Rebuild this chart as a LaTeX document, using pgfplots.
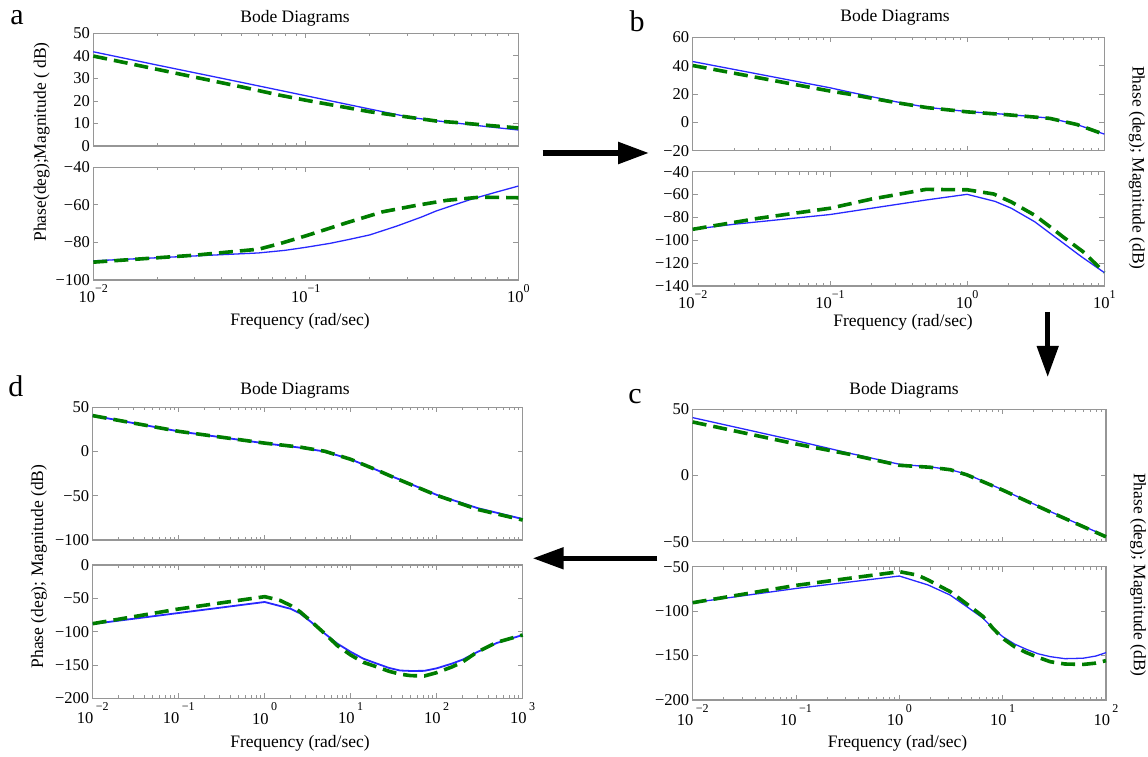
\documentclass[border=0pt]{standalone}
\usepackage{fontspec}
\setmainfont{Liberation Serif}
\usepackage{pgfplots}
\pgfplotsset{compat=1.18}
\usetikzlibrary{arrows.meta}
\definecolor{axgray}{RGB}{150,150,150}
\definecolor{mblue}{RGB}{40,40,255}
\definecolor{mgreen}{RGB}{0,125,0}
\newcommand{\da}[1]{10\raisebox{0.6em}{\fontsize{12}{12}\selectfont #1}}
\newcommand{\dc}[1]{10\hspace{0.15em}\raisebox{0.8em}{\fontsize{12}{12}\selectfont #1}}
\pgfplotsset{
  bode/.style={scale only axis, anchor=south west, clip=false,
    axis line style={draw=axgray, line width=1.2pt},
    every tick/.style={draw=axgray, line width=0.8pt},
    major tick length=5pt, minor tick length=3pt,
    tick label style={font=\fontsize{16.5}{18}\selectfont},
    xticklabel style={yshift=-1pt},
    xtick pos=both, ytick pos=both},
  bl/.style={draw=mblue, line width=1.3pt},
  gr/.style={draw=mgreen, line width=3.6pt, dash pattern=on 14pt off 7pt},
}
\begin{document}
\begin{tikzpicture}[font=\fontsize{17.5}{20}\selectfont]
\useasboundingbox (0,0) rectangle (1148pt,757pt);
% ---------------- panel a ----------------
\begin{semilogxaxis}[bode, at={(93.3pt,611pt)}, width=425pt, height=112.7pt,
  xmin=0.01, xmax=1, ymin=0, ymax=50,
  xtick={0.01,0.1,1}, xticklabels={},
  ytick={0,10,20,30,40,50}, yticklabels={0,10,20,30,40,50}]
\addplot[bl] coordinates {(0.01,41.8)(0.02,35.9)(0.05,28.2)(0.1,22.3)(0.2,16.4)(0.31,12.7)(0.41,11.2)(0.53,10)(0.71,8.6)(1,7.1)};
\addplot[gr] coordinates {(0.01,39.9)(0.02,34.0)(0.05,26.2)(0.0757,22.5)(0.1,20.3)(0.2,15.2)(0.31,12.7)(0.41,11.1)(0.53,10.3)(0.71,9.2)(1,8)};
\end{semilogxaxis}
\begin{semilogxaxis}[bode, at={(93.3pt,477pt)}, width=425pt, height=112.7pt,
  xmin=0.01, xmax=1, ymin=-100, ymax=-40,
  xtick={0.01,0.1,1}, xticklabels={\da{−2},\da{−1},\da{0}},
  ytick={-100,-80,-60,-40}, yticklabels={−100,−80,−60,−40}]
\addplot[bl] coordinates {(0.01,-89.8)(0.03,-87.2)(0.06,-85.6)(0.08,-84.2)(0.1,-82.6)(0.13,-80.5)(0.16,-78.4)(0.2,-76)(0.268,-71.3)(0.35,-66.5)(0.41,-63.3)(0.5,-60)(0.61,-56.8)(0.8,-53)(1,-50)};
\addplot[gr] coordinates {(0.01,-90.5)(0.03,-86.8)(0.06,-83.6)(0.0757,-80.6)(0.1,-76.5)(0.156,-69.5)(0.23,-63.7)(0.33,-60.3)(0.46,-57.6)(0.66,-55.9)(1,-56.2)};
\end{semilogxaxis}
% ---------------- panel b ----------------
\begin{semilogxaxis}[bode, at={(692.7pt,606.3pt)}, width=411.6pt, height=113.4pt,
  xmin=0.01, xmax=10, ymin=-20, ymax=60,
  xtick={0.01,0.1,1,10}, xticklabels={},
  ytick={-20,0,20,40,60}, yticklabels={−20,0,20,40,60}]
\addplot[bl] coordinates {(0.01,42.9)(0.1,24.4)(0.14,21.3)(0.3,14.6)(0.51,10.6)(1,7.6)(2,5.5)(4,3)(6.3,-1.5)(10,-8.3)};
\addplot[gr] coordinates {(0.01,40.1)(0.1,22.1)(0.14,19.8)(0.3,14)(0.51,10.4)(1,7.4)(2,5.3)(4,2.8)(6.3,-1.5)(10,-8.5)};
\end{semilogxaxis}
\begin{semilogxaxis}[bode, at={(692.7pt,471pt)}, width=411.6pt, height=114.3pt,
  xmin=0.01, xmax=10, ymin=-140, ymax=-40,
  xtick={0.01,0.1,1,10}, xticklabels={\da{−2},\da{−1},\da{0},\da{1}},
  ytick={-140,-120,-100,-80,-60,-40}, yticklabels={−140,−120,−100,−80,−60,−40}]
\addplot[bl] coordinates {(0.01,-90.4)(0.02,-86)(0.1,-77.5)(0.5,-64.8)(1,-59.8)(1.6,-66)(2.1,-72)(3.1,-83.7)(6.8,-114.3)(10,-128.3)};
\addplot[gr] coordinates {(0.01,-90.4)(0.03,-80.8)(0.1,-72)(0.2,-64)(0.5,-55.5)(1,-55.8)(1.56,-59.5)(2.1,-66.5)(3.1,-78)(4,-88)(5,-97)(7,-110)(10,-128)};
\end{semilogxaxis}
% ---------------- panel c ----------------
\begin{semilogxaxis}[bode, at={(692.7pt,215.3pt)}, width=413.3pt, height=132.4pt,
  xmin=0.01, xmax=100, ymin=-50, ymax=50,
  xtick={0.01,0.1,1,10,100}, xticklabels={},
  ytick={-50,0,50}, yticklabels={−50,0,50}]
\addplot[bl] coordinates {(0.01,43.7)(0.1,26.3)(0.33,16.8)(1,8.5)(2,6.5)(3.1,4.4)(4.5,1)(10,-10.8)(28.8,-27.2)(100,-45.8)};
\addplot[gr] coordinates {(0.01,40.4)(0.1,23.8)(0.33,16)(1,7.7)(2,6.2)(3.1,4.4)(4.5,0.5)(10,-11)(28.8,-27.5)(100,-46.3)};
\end{semilogxaxis}
\begin{semilogxaxis}[bode, at={(692.7pt,57pt)}, width=413.3pt, height=133.3pt,
  xmin=0.01, xmax=100, ymin=-200, ymax=-50,
  xtick={0.01,0.1,1,10,100}, xticklabels={\dc{−2},\dc{−1},\dc{0},\dc{1},\dc{2}},
  ytick={-200,-150,-100,-50}, yticklabels={−200,−150,−100,−50}]
\addplot[bl] coordinates {(0.01,-90.5)(0.1,-74.5)(1,-60.5)(1.9,-70.6)(3.1,-81.9)(4.5,-95)(6.46,-108)(8,-119)(10,-128.7)(13,-137)(17,-143)(22,-148)(28.8,-151.2)(40,-153.5)(60,-153)(80,-150.5)(100,-146.7)};
\addplot[gr] coordinates {(0.01,-90.5)(0.1,-71)(0.33,-63)(1,-55.6)(1.5,-59.5)(1.9,-65)(3.1,-78)(4.5,-92)(6.46,-106)(8,-119)(10,-130.6)(13,-140)(17,-146.7)(22,-152)(28.8,-156.9)(40,-159.5)(60,-160)(80,-158.5)(100,-155.7)};
\end{semilogxaxis}
% ---------------- panel d ----------------
\begin{semilogxaxis}[bode, at={(92.7pt,217pt)}, width=430pt, height=132.7pt,
  xmin=0.01, xmax=1000, ymin=-100, ymax=50,
  xtick={0.01,0.1,1,10,100,1000}, xticklabels={},
  ytick={-100,-50,0,50}, yticklabels={−100,−50,0,50}]
\addplot[bl, line width=1.8pt] coordinates {(0.01,40.6)(0.1,22.8)(1,9.3)(2.57,4.4)(5,0)(10,-8.8)(20,-20.8)(30,-28)(50,-36.8)(100,-49)(300,-64)(1000,-76.3)};
\addplot[gr] coordinates {(0.01,40.6)(0.1,22.8)(1,9.5)(2.57,5)(5,0.3)(10,-8.8)(20,-20.8)(30,-28.3)(50,-37.3)(100,-49.5)(300,-65.5)(1000,-77.4)};
\end{semilogxaxis}
\begin{semilogxaxis}[bode, at={(92.7pt,58.7pt)}, width=430pt, height=133.3pt,
  xmin=0.01, xmax=1000, ymin=-200, ymax=0,
  xtick={0.01,0.1,1,10,100,1000}, xticklabels={\dc{−2},\dc{−1},\dc{0},\dc{1},\dc{2},\dc{3}},
  ytick={-200,-150,-100,-50,0}, yticklabels={−200,−150,−100,−50,0}]
\addplot[bl, line width=1.8pt] coordinates {(0.01,-88.5)(0.1,-72)(1,-55.5)(2,-65.7)(2.57,-72.5)(3.5,-86)(5,-103)(7,-118)(10,-130.3)(14,-140.5)(20,-147.8)(28,-154.5)(37.5,-158.3)(50,-159)(72,-158.8)(100,-155)(150,-148)(200,-142)(292,-131)(500,-117)(1000,-105)};
\addplot[gr] coordinates {(0.01,-88)(0.1,-66)(1,-47.5)(1.5,-53)(2,-60.7)(2.57,-70)(3.5,-85)(5,-103)(7,-121)(10,-135)(14,-146)(20,-152.7)(28,-159.5)(37.5,-163.8)(50,-166)(72,-166.5)(100,-161.5)(150,-153)(200,-145.5)(292,-131)(500,-116)(1000,-105)};
\end{semilogxaxis}
% ---------------- texts ----------------
\node[anchor=base, font=\fontsize{30}{32}\selectfont] at (17pt,732pt) {a};
\node[anchor=base, font=\fontsize{30}{32}\selectfont] at (637pt,725.3pt) {b};
\node[anchor=base, font=\fontsize{30}{32}\selectfont] at (635pt,353.7pt) {c};
\node[anchor=base, font=\fontsize{30}{32}\selectfont] at (16pt,360.3pt) {d};
\node[anchor=base] at (295pt,734.3pt) {Bode Diagrams};
\node[anchor=base] at (895pt,735.3pt) {Bode Diagrams};
\node[anchor=base] at (904pt,362pt) {Bode Diagrams};
\node[anchor=base] at (295pt,362pt) {Bode Diagrams};
\node[anchor=base] at (300pt,431pt) {Frequency (rad/sec)};
\node[anchor=base] at (903pt,430pt) {Frequency (rad/sec)};
\node[anchor=base] at (897.5pt,9.2pt) {Frequency (rad/sec)};
\node[anchor=base] at (300pt,9.2pt) {Frequency (rad/sec)};
\node[rotate=90] at (41.7pt,615pt) {Phase(deg);Magnitude ( dB)};
\node[rotate=90] at (39pt,190.5pt) {Phase (deg); Magnitude (dB)};
\node[rotate=-90] at (1136.7pt,589pt) {Phase (deg); Magnitude (dB)};
\node[rotate=-90] at (1138pt,182pt) {Phase (deg); Magnitude (dB)};
% ---------------- arrows ----------------
\draw[line width=5.5pt, -{Triangle[length=31pt,width=21pt]}] (542.7pt,604pt) -- (649pt,604pt);
\draw[line width=4.5pt, -{Triangle[length=31pt,width=21pt]}] (1047.7pt,445pt) -- (1047.7pt,380pt);
\draw[line width=5pt, -{Triangle[length=31pt,width=21pt]}] (657.3pt,198.7pt) -- (532.7pt,198.7pt);
\end{tikzpicture}
\end{document}
